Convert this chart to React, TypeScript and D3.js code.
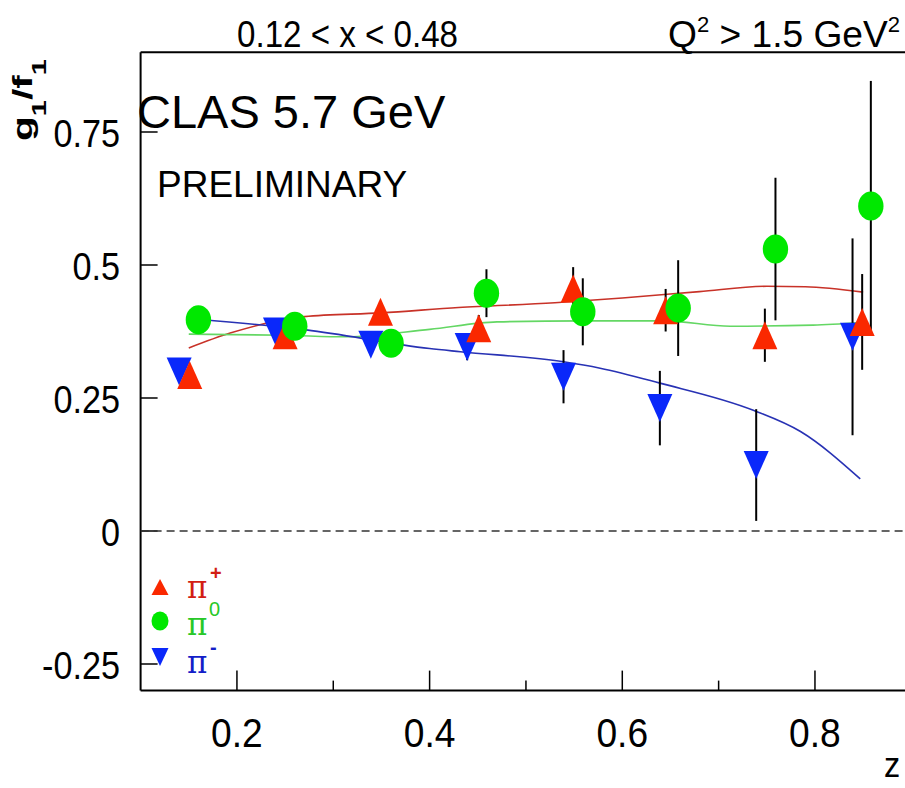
import React from "react";
import * as d3 from "d3";

// ---- data ----
const zPlus = [0.151, 0.25, 0.349, 0.451, 0.549, 0.645, 0.748, 0.849];
const vPlus = [0.293, 0.368, 0.412, 0.381, 0.456, 0.415, 0.368, 0.393];
const ePlus = [0.015, 0.02, 0.02, 0.025, 0.04, 0.04, 0.05, 0.09];

const zZero = [0.16, 0.26, 0.36, 0.459, 0.559, 0.658, 0.759, 0.858];
const vZero = [0.397, 0.385, 0.353, 0.447, 0.412, 0.419, 0.53, 0.611];
const eZero = [0.015, 0.02, 0.02, 0.045, 0.063, 0.09, 0.134, 0.235];

const zMinus = [0.14, 0.24, 0.339, 0.439, 0.539, 0.639, 0.739, 0.839];
const vMinus = [0.3, 0.375, 0.35, 0.346, 0.29, 0.231, 0.124, 0.365];
const eMinus = [0.015, 0.02, 0.02, 0.025, 0.05, 0.07, 0.105, 0.185];

const fitPlusZ = [0.15, 0.193, 0.27, 0.35, 0.43, 0.53, 0.6, 0.68, 0.75, 0.79, 0.85];
const fitPlusV = [0.344, 0.372, 0.403, 0.41, 0.42, 0.429, 0.438, 0.45, 0.46, 0.459, 0.449];
const fitZeroZ = [0.15, 0.25, 0.314, 0.4, 0.47, 0.56, 0.643, 0.712, 0.798, 0.847];
const fitZeroV = [0.37, 0.368, 0.365, 0.379, 0.393, 0.395, 0.395, 0.385, 0.387, 0.392];
const fitMinusZ = [0.16, 0.272, 0.4, 0.432, 0.539, 0.577, 0.639, 0.736, 0.785, 0.847];
const fitMinusV = [0.398, 0.378, 0.343, 0.337, 0.318, 0.306, 0.278, 0.227, 0.187, 0.098];

const xMajor = [0.2, 0.4, 0.6, 0.8];
const xMinor = [0.3, 0.5, 0.7];
const yMajor = [-0.25, 0, 0.25, 0.5, 0.75];
const yTickLabels = ["-0.25", "0", "0.25", "0.5", "0.75"];
const xTickLabels = ["0.2", "0.4", "0.6", "0.8"];

const W = 905;
const H = 788;
const SANS = "'Liberation Sans', Arial, sans-serif";
const SERIF = "'DejaVu Serif', serif";

const RED = "rgb(250,40,0)";
const GREEN = "rgb(0,232,0)";
const BLUE = "rgb(10,40,250)";

export default function App() {
  const x = d3.scaleLinear().domain([0.1, 0.9]).range([140.6, 911.3]);
  const y = d3.scaleLinear().domain([-0.3, 0.9]).range([690.6, 52.2]);
  const left = x(0.1);
  const bottom = y(-0.3);
  const top = y(0.9);

  const line = d3
    .line<[number, number]>()
    .x((d) => x(d[0]))
    .y((d) => y(d[1]))
    .curve(d3.curveMonotoneX);

  const pts = (zs: number[], vs: number[]) => zs.map((z, i) => [z, vs[i]] as [number, number]);

  const triUp = (cx: number, cy: number, w: number, h: number) =>
    `M${cx - w / 2},${cy + h / 2}L${cx + w / 2},${cy + h / 2}L${cx},${cy - h / 2}Z`;
  const triDown = (cx: number, cy: number, w: number, h: number) =>
    `M${cx - w / 2},${cy - h / 2}L${cx + w / 2},${cy - h / 2}L${cx},${cy + h / 2}Z`;

  const errBars = (zs: number[], vs: number[], es: number[], key: string) =>
    zs.map((z, i) => (
      <line
        key={key + i}
        x1={x(z)}
        x2={x(z)}
        y1={y(vs[i] - es[i])}
        y2={y(vs[i] + es[i])}
        stroke="#000"
        strokeWidth={2}
      />
    ));

  return (
    <svg
      width={W}
      height={H}
      style={{ position: "absolute", left: 0, top: 0, background: "#fff" }}
    >
      <rect x={0} y={0} width={W} height={H} fill="#fff" />

      {/* header */}
      <text x={237} y={47} fontFamily={SANS} fontSize={37} fill="#000" textLength={221} lengthAdjust="spacingAndGlyphs">
        0.12 &lt; x &lt; 0.48
      </text>
      <text x={668} y={47} fontFamily={SANS} fontSize={37} fill="#000" textLength={232} lengthAdjust="spacingAndGlyphs">
        Q<tspan dy={-15} fontSize={22}>2</tspan>
        <tspan dy={15}> &gt; 1.5 GeV</tspan>
        <tspan dy={-15} fontSize={22}>2</tspan>
      </text>

      {/* frame */}
      <line x1={left} x2={W} y1={top} y2={top} stroke="#000" strokeWidth={2} />
      <line x1={left} x2={left} y1={top} y2={bottom} stroke="#000" strokeWidth={2} />
      <line x1={left} x2={W} y1={bottom} y2={bottom} stroke="#000" strokeWidth={2} />

      {/* x ticks */}
      {xMajor.map((t) => (
        <line key={"xm" + t} x1={x(t)} x2={x(t)} y1={bottom} y2={bottom - 20} stroke="#000" strokeWidth={1.5} />
      ))}
      {xMinor.map((t) => (
        <line key={"xn" + t} x1={x(t)} x2={x(t)} y1={bottom} y2={bottom - 10} stroke="#000" strokeWidth={1.5} />
      ))}
      {xMajor.map((t, i) => (
        <text
          key={"xl" + t}
          transform={`translate(${x(t)},747) scale(0.93,1)`}
          textAnchor="middle"
          fontFamily={SANS}
          fontSize={40}
          fill="#000"
        >
          {xTickLabels[i]}
        </text>
      ))}
      <text transform="translate(884,777) scale(0.9,1)" fontFamily={SANS} fontSize={36} fill="#000">z</text>

      {/* y ticks */}
      {yMajor.map((t, i) => (
        <g key={"y" + t}>
          <line x1={left} x2={left + 17} y1={y(t)} y2={y(t)} stroke="#000" strokeWidth={1.5} />
          <text
            transform={`translate(120,${y(t) + 14.5}) scale(0.9,1)`}
            textAnchor="end"
            fontFamily={SANS}
            fontSize={38}
            fill="#000"
          >
            {yTickLabels[i]}
          </text>
        </g>
      ))}

      {/* y label */}
      <text
        transform={`translate(32,141) rotate(-90) scale(1.45,1)`}
        fontFamily={SANS}
        fontWeight="bold"
        fontSize={28}
        fill="#000"
      >
        g<tspan dy={14} fontSize={20}>1</tspan>
        <tspan dy={-14}>/f</tspan>
        <tspan dy={14} fontSize={20}>1</tspan>
      </text>

      {/* zero line */}
      <line x1={left} x2={W} y1={y(0)} y2={y(0)} stroke="#333" strokeWidth={1.5} strokeDasharray="8,5" />

      {/* annotations */}
      <text x={137} y={128} fontFamily={SANS} fontSize={47} fill="#000">CLAS 5.7 GeV</text>
      <text x={157} y={197} fontFamily={SANS} fontSize={37} fill="#000">PRELIMINARY</text>

      {/* fit curves */}
      <path d={line(pts(fitPlusZ, fitPlusV)) || ""} fill="none" stroke="rgb(200,50,40)" strokeWidth={1.6} />
      <path d={line(pts(fitZeroZ, fitZeroV)) || ""} fill="none" stroke="rgb(100,215,100)" strokeWidth={1.6} />
      <path d={line(pts(fitMinusZ, fitMinusV)) || ""} fill="none" stroke="rgb(40,50,180)" strokeWidth={1.6} />

      {/* error bars */}
      {errBars(zMinus, vMinus, eMinus, "em")}
      {errBars(zPlus, vPlus, ePlus, "ep")}
      {errBars(zZero, vZero, eZero, "ez")}

      {/* markers */}
      {zMinus.map((z, i) => (
        <path key={"mm" + i} d={triDown(x(z), y(vMinus[i]), 25, 28)} fill={BLUE} />
      ))}
      {zPlus.map((z, i) => (
        <path key={"mp" + i} d={triUp(x(z), y(vPlus[i]), 25, 28)} fill={RED} />
      ))}
      {zZero.map((z, i) => (
        <ellipse key={"mz" + i} cx={x(z)} cy={y(vZero[i])} rx={12.7} ry={14.5} fill={GREEN} />
      ))}

      {/* legend */}
      <path d={triUp(160, 587, 17, 16)} fill={RED} />
      <ellipse cx={160} cy={621} rx={8.5} ry={9.5} fill={GREEN} />
      <path d={triDown(160, 657, 17, 18)} fill={BLUE} />
      <text x={187} y={598} fontFamily={SERIF} fontSize={31} fill="rgb(210,30,20)">π</text>
      <text x={210} y={580} fontFamily={SANS} fontWeight="bold" fontSize={20} fill="rgb(210,30,20)">+</text>
      <text x={187} y={635} fontFamily={SERIF} fontSize={31} fill="rgb(40,200,40)">π</text>
      <text x={209} y={616} fontFamily={SANS} fontSize={20} fill="rgb(40,200,40)">0</text>
      <text x={187} y={673} fontFamily={SERIF} fontSize={31} fill="rgb(20,30,200)">π</text>
      <text x={210} y={654} fontFamily={SANS} fontWeight="bold" fontSize={20} fill="rgb(20,30,200)">-</text>
    </svg>
  );
}
